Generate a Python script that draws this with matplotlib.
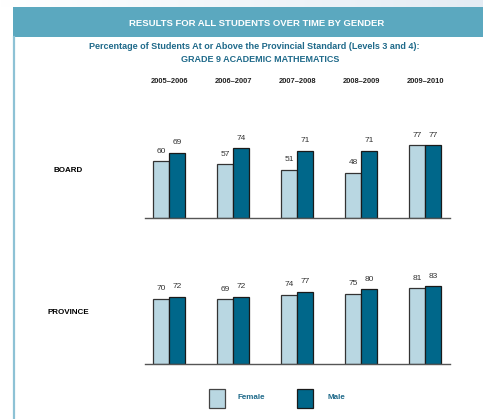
import numpy as np
import matplotlib.pyplot as plt
from matplotlib.patches import Rectangle
from matplotlib.lines import Line2D
from matplotlib.colors import LinearSegmentedColormap

plt.rcParams['font.family'] = ['Liberation Sans', 'DejaVu Sans']

# school years and results (% at or above the provincial standard)
years = ['2005\u20132006', '2006\u20132007', '2007\u20132008', '2008\u20132009', '2009\u20132010']
board_female = [60, 57, 51, 48, 77]
board_male = [69, 74, 71, 71, 77]
province_female = [70, 69, 74, 75, 81]
province_male = [72, 72, 77, 80, 83]

female_color = '#b9d7e2'
male_color = '#00678a'
teal_text = '#1f6a8a'

W, H = 483, 419
fig = plt.figure(figsize=(W / 100, H / 100), dpi=100)


def px(x, y):
    # pixel position (from top-left) -> figure fraction
    return x / W, 1 - y / H


# faint gradient strip above the header band
grad = fig.add_axes([0, 1 - 7.5 / H, 1, 7.5 / H])
grad.imshow(np.linspace(0, 1, 256)[None, :], aspect='auto',
            cmap=LinearSegmentedColormap.from_list('g', ['#ffffff', '#e4ecf4']))
grad.axis('off')

# header band and left border
fig.patches.append(Rectangle(px(13, 37), 1, 29.5 / H, transform=fig.transFigure,
                             facecolor='#5ba8bf', edgecolor='none', zorder=0))
fig.lines.append(Line2D([13.5 / W, 13.5 / W], [0, 1 - 37 / H], transform=fig.transFigure,
                        color='#8dc2d5', linewidth=1.6))

fig.text(*px(257, 23), 'RESULTS FOR ALL STUDENTS OVER TIME BY GENDER', color='white',
         fontsize=6.8, fontweight='bold', ha='center', va='center')
fig.text(*px(254, 46), 'Percentage of Students At or Above the Provincial Standard (Levels 3 and 4):',
         color=teal_text, fontsize=6.5, fontweight='bold', ha='center', va='center')
fig.text(*px(260, 60), 'GRADE 9 ACADEMIC MATHEMATICS', color=teal_text,
         fontsize=6.5, fontweight='bold', ha='center', va='center')

x = np.arange(len(years))
bar_w = 0.25
panel_h = 94


def draw_panel(top, female, male, label, label_y):
    left, right, bottom = 145, 450, top + panel_h
    ax = fig.add_axes([left / W, 1 - bottom / H, (right - left) / W, panel_h / H])
    ax.bar(x - bar_w / 2, female, bar_w, color=female_color, edgecolor='#333333', linewidth=0.9)
    ax.bar(x + bar_w / 2, male, bar_w, color=male_color, edgecolor='#1a1a1a', linewidth=0.9)
    for xi, f, m in zip(x, female, male):
        ax.text(xi - bar_w / 2, f + 7, str(f), ha='center', va='bottom', fontsize=6, color='#333333')
        ax.text(xi + bar_w / 2, m + 7, str(m), ha='center', va='bottom', fontsize=6, color='#333333')
    ax.set_xlim(-0.375, 4.39)
    ax.set_ylim(0, 100)
    for side in ['top', 'right', 'left']:
        ax.spines[side].set_visible(False)
    ax.spines['bottom'].set_color('#555555')
    ax.spines['bottom'].set_linewidth(1.0)
    ax.set_xticks([])
    ax.set_yticks([])
    ax.patch.set_alpha(0)
    fig.text(*px(68, label_y), label, fontsize=5.8, fontweight='bold', ha='center', va='center')
    return ax


ax_board = draw_panel(123.7, board_female, board_male, 'BOARD', 170)
ax_prov = draw_panel(270.3, province_female, province_male, 'PROVINCE', 313)

# year headings above the board panel
for xi, yr in zip(x, years):
    ax_board.text(xi, 1.444, yr, transform=ax_board.get_xaxis_transform(), ha='center', va='center',
                  fontsize=5.4, fontweight='bold', color='#222222')

# legend: swatch + label for each series
for (bx, tx), name, fc, ec in [((209, 238), 'Female', female_color, '#444444'),
                               ((297, 327), 'Male', male_color, '#1a1a1a')]:
    fig.patches.append(Rectangle(px(bx, 408), 16 / W, 19 / H, transform=fig.transFigure,
                                 facecolor=fc, edgecolor=ec, linewidth=0.9))
    fig.text(*px(tx, 397.5), name, fontsize=5.8, fontweight='bold', color=teal_text,
             ha='left', va='center')

fig.savefig('out.png', dpi=100)
